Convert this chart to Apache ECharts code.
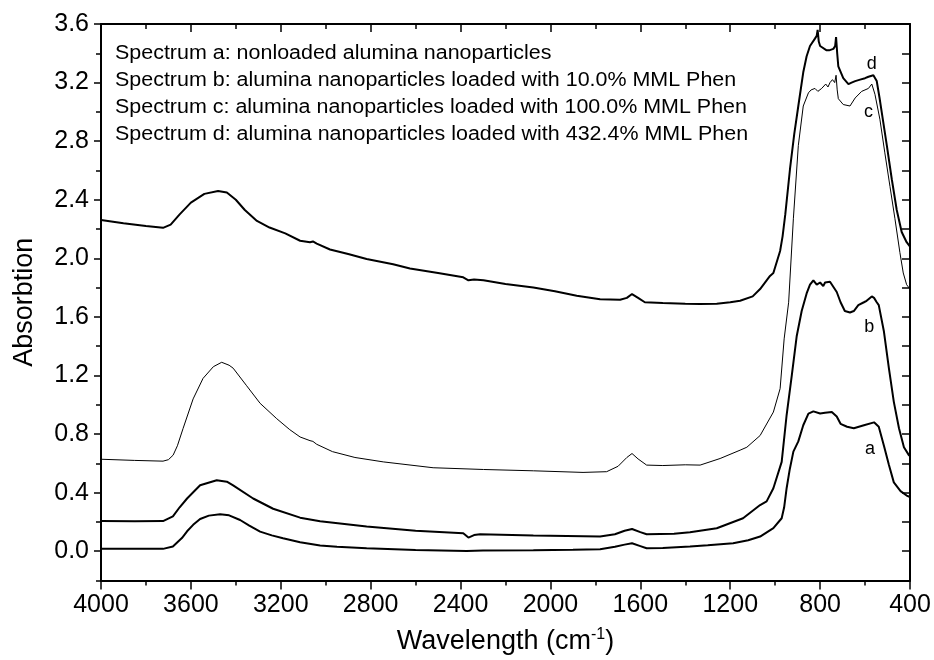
<!DOCTYPE html>
<html>
<head>
<meta charset="utf-8">
<script src="https://cdn.jsdelivr.net/npm/echarts@6/dist/echarts.min.js"></script>
<style>
html,body{margin:0;padding:0;background:#fff;}
#chart{width:934px;height:660px;}
</style>
</head>
<body>
<div id="chart"></div>
<script>
// ---- Data (wavenumber cm^-1, absorbance) ----
const xTicks = [4000, 3600, 3200, 2800, 2400, 2000, 1600, 1200, 800, 400];
const yTickLabels = [0.0, 0.4, 0.8, 1.2, 1.6, 2.0, 2.4, 2.8, 3.2, 3.6];
const yMinorTicks = [-0.2, 0.2, 0.6, 1.0, 1.4, 1.8, 2.2, 2.6, 3.0, 3.4];

const legendLines = [
  'Spectrum a: nonloaded alumina nanoparticles',
  'Spectrum b: alumina nanoparticles loaded with 10.0% MML Phen',
  'Spectrum c: alumina nanoparticles loaded with 100.0% MML Phen',
  'Spectrum d: alumina nanoparticles loaded with 432.4% MML Phen'
];
const curveNames = ['a', 'b', 'c', 'd'];

const aWn  = [4000,3900,3800,3724,3680,3640,3617,3590,3559,3520,3470,3430,3381,3340,3292,3240,3190,3114,3025,2950,2818,2600,2373,2300,2076,1900,1779,1713,1670,1637,1600,1572,1500,1379,1300,1187,1120,1067,1008,971,960,949,935,919,897,875,852,830,800,778,748,726,709,680,650,605,560,539,516,494,472,442,415,400];
const aAbs = [0.016,0.016,0.017,0.016,0.032,0.09,0.136,0.18,0.22,0.243,0.252,0.245,0.213,0.175,0.134,0.108,0.088,0.061,0.039,0.03,0.02,0.008,0.002,0.005,0.007,0.01,0.014,0.03,0.045,0.054,0.035,0.02,0.022,0.032,0.04,0.054,0.075,0.10,0.157,0.225,0.30,0.43,0.56,0.68,0.75,0.86,0.94,0.955,0.94,0.945,0.95,0.92,0.87,0.85,0.84,0.86,0.88,0.85,0.72,0.59,0.47,0.41,0.38,0.37];

const bWn  = [4000,3850,3724,3680,3650,3617,3559,3485,3440,3412,3323,3234,3114,3025,2818,2600,2388,2365,2340,2313,2076,1779,1713,1670,1637,1600,1572,1450,1379,1260,1143,1067,1038,1008,971,949,926,904,882,860,845,830,815,800,786,778,756,748,726,709,690,667,650,630,605,593,570,560,548,539,516,494,472,449,427,405,400];
const bAbs = [0.206,0.205,0.206,0.238,0.30,0.36,0.45,0.485,0.475,0.45,0.36,0.29,0.229,0.204,0.168,0.14,0.122,0.093,0.11,0.116,0.107,0.10,0.116,0.14,0.152,0.13,0.116,0.12,0.129,0.157,0.225,0.315,0.34,0.43,0.61,0.93,1.20,1.47,1.64,1.76,1.82,1.85,1.82,1.835,1.81,1.835,1.84,1.84,1.77,1.70,1.64,1.63,1.64,1.68,1.70,1.71,1.74,1.73,1.70,1.68,1.50,1.25,1.02,0.84,0.71,0.656,0.65];

const cWn  = [4000,3850,3724,3700,3679,3660,3635,3590,3546,3500,3463,3430,3412,3352,3292,3218,3160,3114,3070,3057,3040,2970,2870,2744,2522,2298,2076,1855,1750,1699,1660,1637,1610,1572,1500,1400,1334,1245,1156,1126,1067,1008,978,960,940,919,897,875,852,840,823,810,793,775,765,756,745,735,729,724,719,697,667,644,615,585,570,556,534,512,489,467,445,430,415,400];
const cAbs = [0.628,0.62,0.615,0.625,0.656,0.72,0.837,1.04,1.18,1.26,1.29,1.27,1.25,1.13,1.01,0.905,0.83,0.78,0.755,0.75,0.73,0.68,0.64,0.61,0.57,0.558,0.549,0.538,0.543,0.58,0.64,0.667,0.63,0.588,0.585,0.59,0.588,0.633,0.69,0.71,0.79,0.95,1.11,1.45,1.70,2.27,2.77,3.04,3.13,3.15,3.16,3.14,3.16,3.19,3.17,3.20,3.22,3.20,3.25,3.15,3.09,3.05,3.04,3.095,3.14,3.16,3.19,3.12,2.95,2.72,2.49,2.27,2.04,1.90,1.82,1.79];

const dWn  = [4000,3900,3800,3724,3690,3650,3600,3540,3479,3440,3400,3360,3306,3250,3180,3114,3070,3057,3040,2981,2900,2818,2700,2625,2500,2388,2365,2340,2298,2200,2076,1980,1883,1779,1690,1660,1637,1610,1580,1500,1400,1334,1260,1200,1156,1100,1067,1023,1008,978,967,955,934,915,897,875,860,845,823,815,811,806,800,771,760,741,733,729,724,719,697,674,660,644,622,600,585,578,563,548,536,525,503,481,459,437,415,400];
const dAbs = [2.262,2.24,2.22,2.208,2.23,2.30,2.38,2.44,2.46,2.45,2.40,2.33,2.255,2.21,2.17,2.12,2.11,2.115,2.10,2.06,2.03,1.995,1.96,1.93,1.90,1.87,1.85,1.855,1.85,1.825,1.80,1.775,1.745,1.72,1.717,1.73,1.756,1.73,1.70,1.695,1.69,1.688,1.69,1.70,1.71,1.74,1.79,1.88,1.90,2.05,2.15,2.30,2.61,2.85,3.04,3.27,3.38,3.45,3.50,3.52,3.56,3.48,3.45,3.42,3.42,3.43,3.45,3.51,3.40,3.31,3.23,3.19,3.20,3.21,3.22,3.23,3.24,3.25,3.25,3.21,3.10,2.99,2.77,2.54,2.33,2.18,2.11,2.08];

// label anchor points for the curve letters (wavenumber, absorbance)
const curveLabelAt = [[578, 0.70], [581, 1.53], [585, 3.00], [570, 3.33]];

function pairs(xs, ys) { return xs.map((x, i) => [x, ys[i]]); }

const FONT = '"Liberation Sans", Arial, Helvetica, sans-serif';
const chart = echarts.init(document.getElementById('chart'), null, {renderer: 'canvas'});

const lineStyleAxis = {color: '#000', width: 2};

function makeSeries(name, xs, ys, width, idx) {
  return {
    name: name,
    type: 'line',
    data: pairs(xs, ys),
    showSymbol: false,
    symbol: 'none',
    smooth: false,
    lineStyle: {color: '#000', width: width},
    silent: true,
    animation: false,
    markPoint: {
      symbol: 'circle',
      symbolSize: 0,
      silent: true,
      label: {
        show: true, position: 'inside', formatter: name,
        color: '#000', fontSize: 18, fontFamily: FONT
      },
      data: [{coord: curveLabelAt[idx]}]
    }
  };
}

const option = {
  backgroundColor: '#fff',
  animation: false,
  grid: {left: 101, right: 24, top: 24, bottom: 77, containLabel: false},
  xAxis: [
    {
      type: 'value', position: 'bottom', min: 400, max: 4000, interval: 400, inverse: true,
      axisLine: {show: true, onZero: false, lineStyle: lineStyleAxis},
      axisTick: {show: true, inside: false, length: 9, lineStyle: {color: '#000', width: 1.5}},
      minorTick: {show: true, splitNumber: 2, length: 5, lineStyle: {color: '#000', width: 1.5}},
      axisLabel: {show: true, color: '#000', fontSize: 25, fontFamily: FONT, margin: 12,
        formatter: v => String(v)},
      splitLine: {show: false}, minorSplitLine: {show: false},
      name: 'Wavelength (cm{sup|-1})',
      nameLocation: 'middle', nameGap: 46,
      nameTextStyle: {color: '#000', fontSize: 27, fontFamily: FONT,
        rich: {sup: {fontSize: 16, verticalAlign: 'top', padding: [0, 0, 14, 0], color: '#000', fontFamily: FONT}}}
    },
    {
      type: 'value', position: 'top', min: 400, max: 4000, interval: 400, inverse: true,
      axisLine: {show: true, onZero: false, lineStyle: lineStyleAxis},
      axisTick: {show: true, inside: true, length: 8, lineStyle: {color: '#000', width: 1.5}},
      minorTick: {show: true, splitNumber: 2, length: 5, lineStyle: {color: '#000', width: 1.5}},
      axisLabel: {show: false},
      splitLine: {show: false}
    }
  ],
  yAxis: [
    {
      type: 'value', position: 'left', min: -0.2, max: 3.6, interval: 0.2,
      axisLine: {show: true, onZero: false, lineStyle: lineStyleAxis},
      axisTick: {show: true, inside: false, length: 7, customValues: yTickLabels, lineStyle: {color: '#000', width: 1.5}},
      axisLabel: {show: true, color: '#000', fontSize: 25, fontFamily: FONT, margin: 12,
        customValues: yTickLabels, formatter: v => v.toFixed(1)},
      splitLine: {show: false},
      name: 'Absorbtion', nameLocation: 'middle', nameGap: 63,
      nameTextStyle: {color: '#000', fontSize: 27, fontFamily: FONT}
    },
    {
      type: 'value', position: 'left', min: -0.2, max: 3.6, interval: 0.2,
      axisLine: {show: false, onZero: false},
      axisTick: {show: true, inside: false, length: 5, customValues: yMinorTicks, lineStyle: {color: '#000', width: 1.5}},
      axisLabel: {show: false},
      splitLine: {show: false}
    },
    {
      type: 'value', position: 'right', min: -0.2, max: 3.6, interval: 0.2,
      axisLine: {show: true, onZero: false, lineStyle: lineStyleAxis},
      axisTick: {show: true, inside: true, length: 8, lineStyle: {color: '#000', width: 1.5}},
      axisLabel: {show: false},
      splitLine: {show: false}
    }
  ],
  graphic: [
    {
      type: 'text', left: 115, top: 40, scaleX: 1.1, silent: true,
      style: {
        text: legendLines.join('\n'),
        fill: '#000', fontSize: 19.5, fontFamily: FONT, lineHeight: 27
      }
    }
  ],
  series: [
    makeSeries(curveNames[0], aWn, aAbs, 2, 0),
    makeSeries(curveNames[1], bWn, bAbs, 2, 1),
    makeSeries(curveNames[2], cWn, cAbs, 1, 2),
    makeSeries(curveNames[3], dWn, dAbs, 2, 3)
  ]
};
chart.setOption(option);
</script>
</body>
</html>
